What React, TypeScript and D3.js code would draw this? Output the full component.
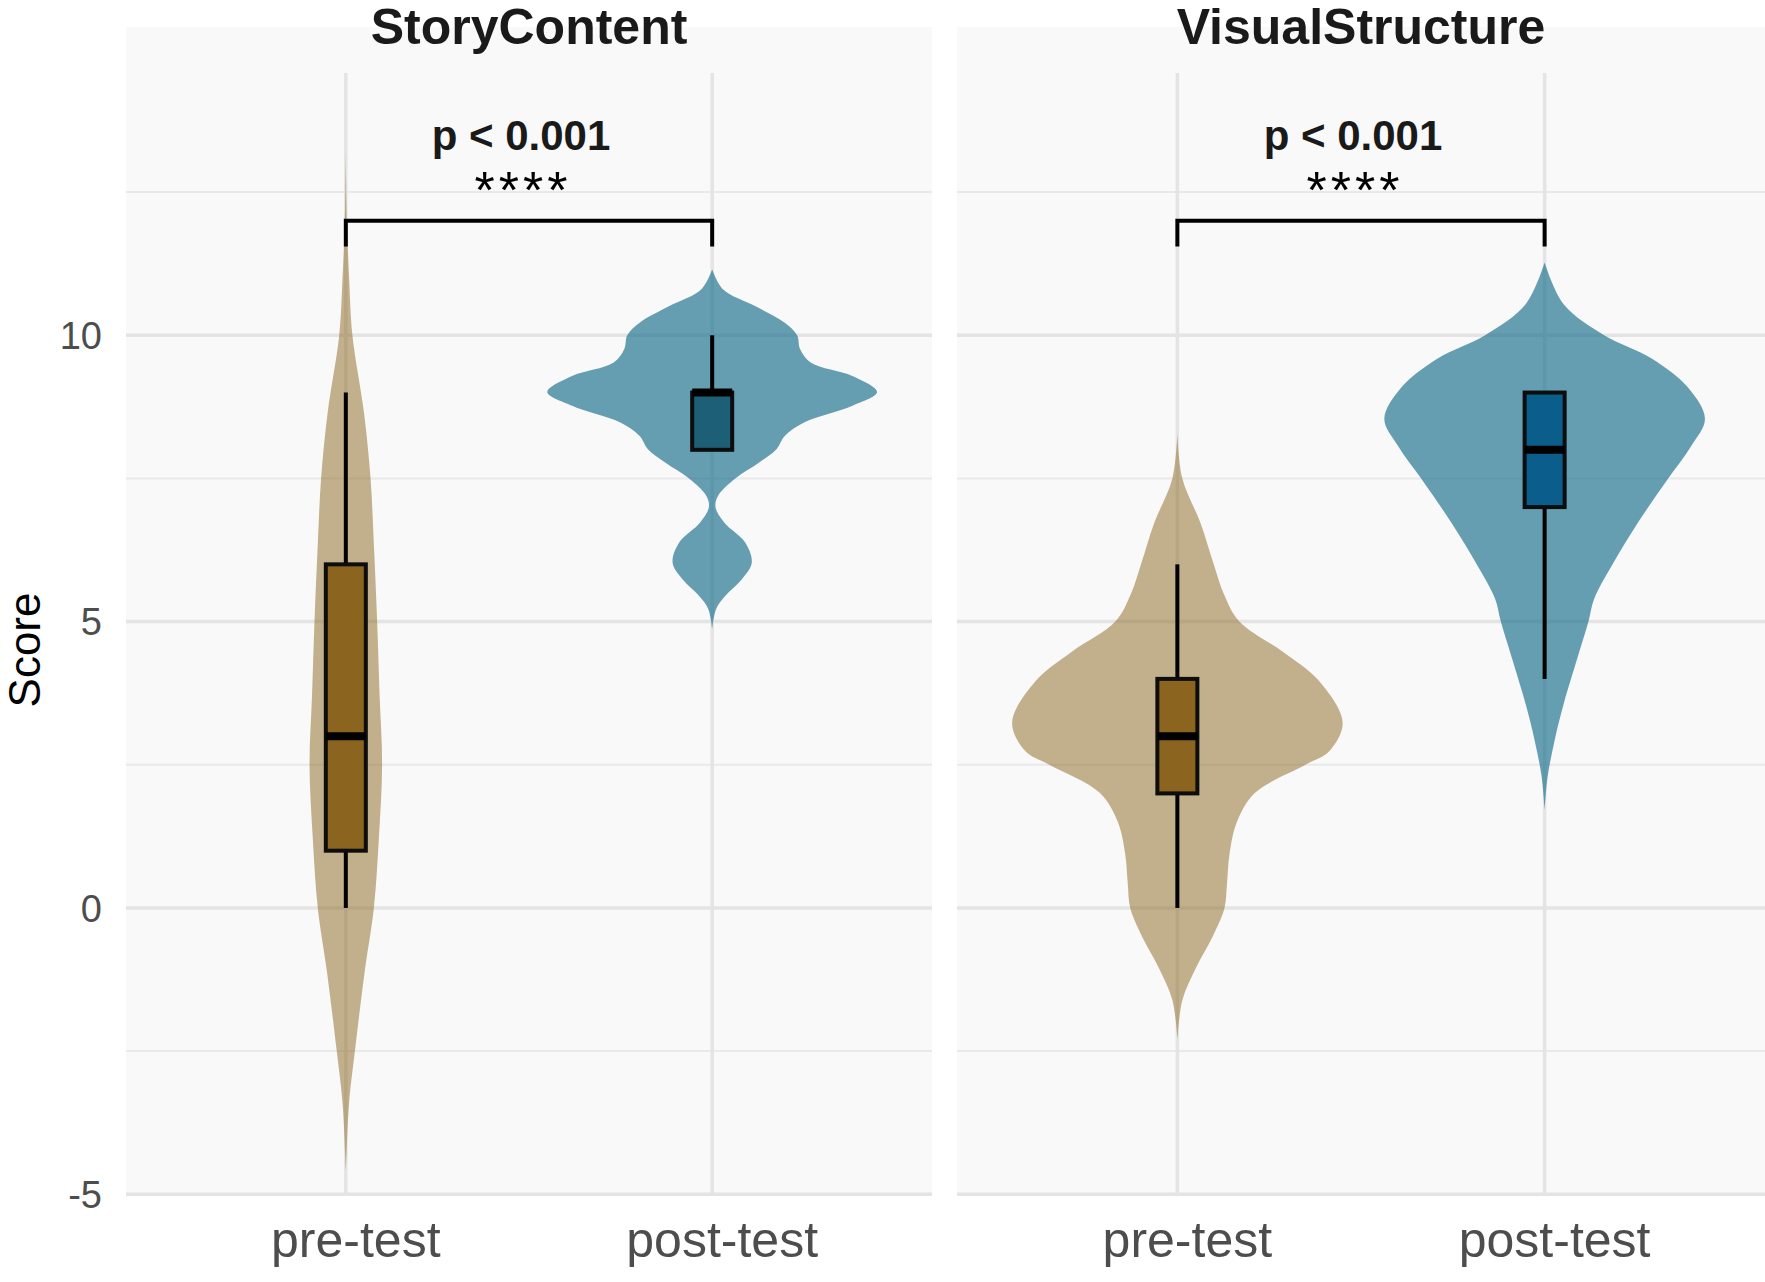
import * as d3 from "d3";
import { useEffect, useRef } from "react";

const panels = ["StoryContent", "VisualStructure"];
const groups = ["pre-test", "post-test"];
const yTicks = [-5, 0, 5, 10];
const yMinorTicks = [-2.5, 2.5, 7.5, 12.5];

// box stats: [lower whisker, q1, median, q3, upper whisker]
const storyPreBox = [0, 1, 3, 6, 9];
const storyPostBox = [8, 8, 9, 9, 10];
const visualPreBox = [0, 2, 3, 4, 6];
const visualPostBox = [4, 7, 8, 9, 9];

// violin outlines: [score, relative density]
const storyPreViolin: [number, number][] = [
  [13.2, 0], [12, 0.006], [11, 0.02], [10, 0.04], [8.65, 0.11], [7.5, 0.15],
  [6.35, 0.17], [5, 0.19], [3.7, 0.205], [2.5, 0.22], [1.2, 0.2], [0, 0.17],
  [-1.1, 0.115], [-2.5, 0.055], [-3.4, 0.02], [-4.3, 0.004], [-4.6, 0],
];
const storyPostViolin: [number, number][] = [
  [11.15, 0], [10.8, 0.067], [10.51, 0.26], [10.22, 0.44], [10, 0.515],
  [9.76, 0.533], [9.52, 0.6], [9.29, 0.85], [9.01, 1], [8.77, 0.85],
  [8.48, 0.56], [8.24, 0.44], [8.01, 0.39], [7.78, 0.285], [7.5, 0.14],
  [7.2, 0.036], [7.0, 0.02], [6.73, 0.073], [6.38, 0.2], [6.03, 0.24],
  [5.74, 0.18], [5.45, 0.08], [5.22, 0.024], [4.87, 0],
];
const visualPreViolin: [number, number][] = [
  [8.27, 0], [7.5, 0.03], [6.72, 0.14], [6.0, 0.22], [5.49, 0.28], [5.0, 0.375],
  [4.47, 0.64], [3.97, 0.855], [3.24, 1], [2.74, 0.92], [2.5, 0.775],
  [2.01, 0.47], [1.5, 0.36], [0.93, 0.315], [0.42, 0.3], [0, 0.285],
  [-0.52, 0.21], [-1.03, 0.115], [-1.61, 0.03], [-2.3, 0],
];
const visualPostViolin: [number, number][] = [
  [11.27, 0], [10.54, 0.115], [10, 0.36], [9.59, 0.65], [9.08, 0.87],
  [8.54, 0.97], [8.06, 0.885], [7.49, 0.745], [6.73, 0.565], [5.97, 0.405],
  [5.4, 0.3], [5.0, 0.265], [4.38, 0.2], [3.56, 0.115], [2.92, 0.06],
  [2.29, 0.018], [1.71, 0],
];

const pLabel = "p < 0.001";
const sigStars = "****";
const bracketValue = 12;
const bracketTickValue = 11.55;

const FONT = "'Liberation Sans', Arial, Helvetica, sans-serif";

export default function App() {
  const ref = useRef<SVGSVGElement>(null);

  useEffect(() => {
    const W = 1765;
    const H = 1282;
    const svg = d3.select(ref.current);
    svg.selectAll("*").remove();
    svg.attr("width", W).attr("height", H);

    svg.append("rect").attr("width", W).attr("height", H).attr("fill", "#ffffff");

    const panelX = [
      [126, 932],
      [957, 1765],
    ];
    const stripTop = 27;
    const y = d3.scaleLinear().domain([-5.03, 14.58]).range([1196, 73]);

    const boxes = [
      [storyPreBox, storyPostBox],
      [visualPreBox, visualPostBox],
    ];
    const violins = [
      [storyPreViolin, storyPostViolin],
      [visualPreViolin, visualPostViolin],
    ];
    const violinFill = ["#8B6520", "#156C8B"];
    const violinOpacity = [0.5, 0.65];
    const boxFill = [
      ["#8B6520", "#1E5F78"],
      ["#8B6520", "#0B5E8C"],
    ];

    panels.forEach((name, pi) => {
      const [x0, x1] = panelX[pi];
      const g = svg.append("g");
      const x = d3.scalePoint<string>().domain(groups).range([x0, x1]).padding(0.6);
      const half = 0.45 * x.step();
      const w = d3.scaleLinear().domain([0, 1]).range([0, half]);

      // background (strip + panel)
      g.append("rect")
        .attr("x", x0)
        .attr("y", stripTop)
        .attr("width", x1 - x0)
        .attr("height", y.range()[0] - stripTop)
        .attr("fill", "#F9F9F9");

      // grid
      g.selectAll(".minor")
        .data(yMinorTicks)
        .enter()
        .append("line")
        .attr("x1", x0)
        .attr("x2", x1)
        .attr("y1", (d) => y(d))
        .attr("y2", (d) => y(d))
        .attr("stroke", "#E9E9E9")
        .attr("stroke-width", 2);
      g.selectAll(".major")
        .data(yTicks)
        .enter()
        .append("line")
        .attr("x1", x0)
        .attr("x2", x1)
        .attr("y1", (d) => y(d))
        .attr("y2", (d) => y(d))
        .attr("stroke", "#E4E4E4")
        .attr("stroke-width", 3.5);
      g.selectAll(".vgrid")
        .data(groups)
        .enter()
        .append("line")
        .attr("x1", (d) => x(d)!)
        .attr("x2", (d) => x(d)!)
        .attr("y1", y.range()[1])
        .attr("y2", y.range()[0])
        .attr("stroke", "#E4E4E4")
        .attr("stroke-width", 3.5);

      // violins
      groups.forEach((grp, gi) => {
        const cx = x(grp)!;
        const area = d3
          .area<[number, number]>()
          .y((d) => y(d[0]))
          .x0((d) => cx - w(d[1]))
          .x1((d) => cx + w(d[1]))
          .curve(d3.curveCatmullRom.alpha(0.5));
        const pts = [...violins[pi][gi]].sort((a, b) => b[0] - a[0]);
        g.append("path")
          .attr("d", area(pts)!)
          .attr("fill", violinFill[gi])
          .attr("fill-opacity", violinOpacity[gi]);
      });

      // boxplots
      groups.forEach((grp, gi) => {
        const cx = x(grp)!;
        const [lo, q1, med, q3, hi] = boxes[pi][gi];
        const bw = 40;
        g.append("line")
          .attr("x1", cx).attr("x2", cx)
          .attr("y1", y(q3)).attr("y2", y(hi))
          .attr("stroke", "#000").attr("stroke-width", 4);
        g.append("line")
          .attr("x1", cx).attr("x2", cx)
          .attr("y1", y(q1)).attr("y2", y(lo))
          .attr("stroke", "#000").attr("stroke-width", 4);
        g.append("rect")
          .attr("x", cx - bw / 2)
          .attr("y", y(q3))
          .attr("width", bw)
          .attr("height", y(q1) - y(q3))
          .attr("fill", boxFill[pi][gi])
          .attr("stroke", "#0d0d0d")
          .attr("stroke-width", 4);
        g.append("line")
          .attr("x1", cx - bw / 2).attr("x2", cx + bw / 2)
          .attr("y1", y(med)).attr("y2", y(med))
          .attr("stroke", "#000").attr("stroke-width", 8);
      });

      // significance bracket
      const bx1 = x(groups[0])!;
      const bx2 = x(groups[1])!;
      g.append("path")
        .attr(
          "d",
          `M${bx1},${y(bracketTickValue)}V${y(bracketValue)}H${bx2}V${y(bracketTickValue)}`
        )
        .attr("fill", "none")
        .attr("stroke", "#000")
        .attr("stroke-width", 4);
      const mid = (bx1 + bx2) / 2 - 8;
      g.append("text")
        .attr("x", mid)
        .attr("y", 150)
        .attr("text-anchor", "middle")
        .attr("font-family", FONT)
        .attr("font-weight", "bold")
        .attr("font-size", 42)
        .attr("fill", "#1a1a1a")
        .text(pLabel);
      g.append("text")
        .attr("x", mid + 2)
        .attr("y", 208)
        .attr("text-anchor", "middle")
        .attr("font-family", FONT)
        .attr("font-size", 52)
        .attr("letter-spacing", 4)
        .attr("fill", "#000")
        .text(sigStars);

      // facet title
      g.append("text")
        .attr("x", (x0 + x1) / 2)
        .attr("y", 44)
        .attr("text-anchor", "middle")
        .attr("font-family", FONT)
        .attr("font-weight", "bold")
        .attr("font-size", 50)
        .attr("fill", "#1a1a1a")
        .text(name);

      // x labels
      g.selectAll(".xl")
        .data(groups)
        .enter()
        .append("text")
        .attr("x", (d) => x(d)! + 10)
        .attr("y", 1257)
        .attr("text-anchor", "middle")
        .attr("font-family", FONT)
        .attr("font-size", 50)
        .attr("fill", "#4D4D4D")
        .text((d) => d);
    });

    // y axis labels
    svg
      .selectAll(".yl")
      .data(yTicks)
      .enter()
      .append("text")
      .attr("x", 102)
      .attr("y", (d) => y(d))
      .attr("dy", "0.36em")
      .attr("text-anchor", "end")
      .attr("font-family", FONT)
      .attr("font-size", 38)
      .attr("fill", "#4D4D4D")
      .text((d) => String(d));

    svg
      .append("text")
      .attr("transform", "translate(40,650) rotate(-90)")
      .attr("text-anchor", "middle")
      .attr("font-family", FONT)
      .attr("font-size", 44)
      .attr("fill", "#000")
      .text("Score");
  });

  return (
    <div style={{ position: "absolute", left: 0, top: 0 }}>
      <svg ref={ref} style={{ display: "block" }} />
    </div>
  );
}
